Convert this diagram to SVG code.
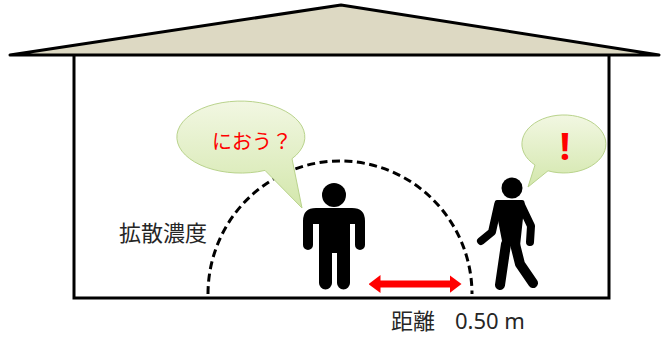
<svg xmlns="http://www.w3.org/2000/svg" width="661" height="337" viewBox="0 0 661 337">
  <style>
    .outline { fill: none; stroke: #000; stroke-width: 3; stroke-linejoin: miter; }
    .jp { font-family: "Noto Sans", "Noto Sans CJK JP", sans-serif; }
    .label { fill: #262626; font-size: 22px; }
    .bubble { fill: url(#bubbleFill); stroke: #b9d38c; stroke-width: 1; }
    .figure { fill: #000; }
    .limb { fill: none; stroke: #000; stroke-linecap: round; stroke-linejoin: round; }
    .say { fill: #ff0000; }
  </style>
  <defs>
    <linearGradient id="bubbleFill" x1="0" y1="0" x2="0" y2="1">
      <stop offset="0" stop-color="#f2f7e2"/>
      <stop offset="1" stop-color="#d3e7ac"/>
    </linearGradient>
    <marker id="redHead" viewBox="0 0 12 18" refX="0.5" refY="9" markerWidth="12" markerHeight="18" markerUnits="userSpaceOnUse" orient="auto-start-reverse">
      <path d="M0,0 L12,9 L0,18 Z" fill="#ff0000"/>
    </marker>
  </defs>

  <!-- house: roof and walls -->
  <g id="house">
    <polygon points="10,55 341,5 659,55" fill="#ddd9c3" stroke="#000" stroke-width="3" stroke-linejoin="round"/>
    <polyline class="outline" points="74,55 74,298 609,298 609,55"/>
  </g>

  <!-- diffusion boundary -->
  <g id="diffusion">
    <path d="M208,294 A132,133 0 0 1 472,294" fill="none" stroke="#000" stroke-width="3" stroke-dasharray="8 4.5"/>
  </g>

  <!-- speech bubble of the standing person -->
  <g id="bubble-smell">
    <path class="bubble" d="M265,170.4 A64,36 0 1 1 292,158.7 L302,208 Z"/>
    <text class="jp say" x="212" y="149" font-size="20">におう？</text>
  </g>

  <!-- speech bubble of the walking person -->
  <g id="bubble-alert">
    <path class="bubble" d="M548,170.8 A42,29 0 1 0 535,165 L528,187 Z"/>
    <text class="say" x="565" y="160" font-family="Noto Sans, sans-serif" font-weight="bold" font-size="37" text-anchor="middle">!</text>
  </g>

  <!-- standing person -->
  <g id="person-standing">
    <circle class="figure" cx="334" cy="195" r="12"/>
    <path class="figure" d="M316,208 L352,208 Q365,208 365,221 L365,245 A5,5 0 0 1 355,245 L355,224 L350,224 L350,283 A6.5,6.5 0 0 1 337,283 L337,253 L332,253 L332,283 A6.5,6.5 0 0 1 319,283 L319,224 L313,224 L313,245 A5,5 0 0 1 303,245 L303,221 Q303,208 316,208 Z"/>
  </g>

  <!-- walking person -->
  <g id="person-walking">
    <circle class="figure" cx="512" cy="188" r="10.5"/>
    <path class="figure" d="M497,200 L522,200 Q525,200 524.5,204 L520,246 L503,246 L495,205 Q494,200 497,200 Z"/>
    <polyline class="limb" stroke-width="8" points="498,205 492,232 481,241"/>
    <polyline class="limb" stroke-width="8" points="521,205 531,226 530,242"/>
    <polyline class="limb" stroke-width="10" points="506,244 500,285"/>
    <polyline class="limb" stroke-width="10" points="515,244 520,264 533,283"/>
  </g>

  <!-- distance between the two people -->
  <g id="connectors">
    <line x1="380" y1="284" x2="450" y2="284" stroke="#ff0000" stroke-width="7" marker-start="url(#redHead)" marker-end="url(#redHead)"/>
  </g>

  <!-- labels -->
  <g id="labels">
    <text class="jp label" x="119" y="241">拡散濃度</text>
    <text class="jp label" y="329"><tspan x="391">距離</tspan><tspan x="455">0.50 m</tspan></text>
  </g>
</svg>
